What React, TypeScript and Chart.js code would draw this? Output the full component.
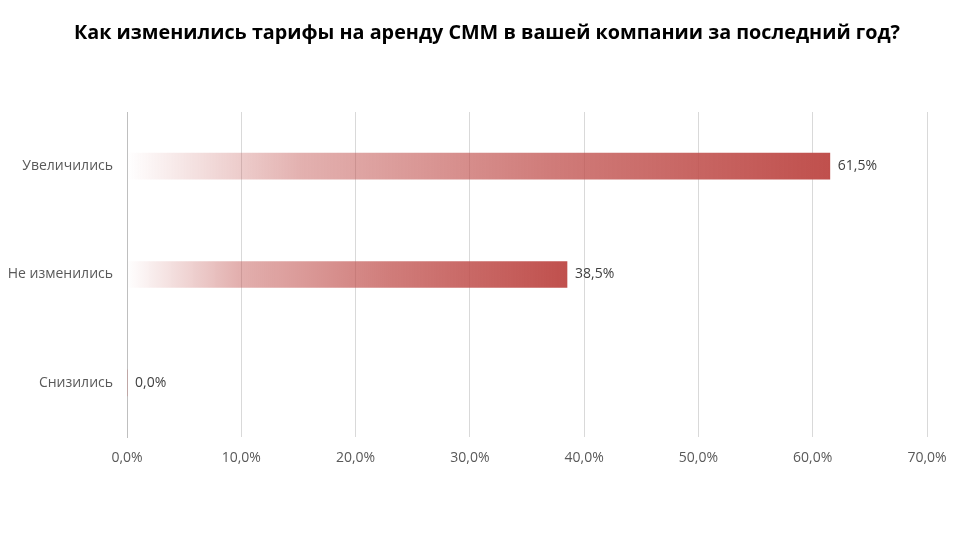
import React, { useEffect, useRef } from "react";
import { Chart, registerables } from "chart.js";

Chart.register(...registerables);

const TITLE = "Как изменились тарифы на аренду СММ в вашей компании за последний год?";
const categories = ["Увеличились", "Не изменились", "Снизились"];
const values = [61.5, 38.5, 0.0];
const xTicksMax = 70;
const xTickStep = 10;

const BASE = "192,80,77";
const FONT = "'Open Sans', 'Noto Sans', sans-serif";

const fmt = (v: number) => v.toFixed(1).replace(".", ",") + "%";

const titlePlugin = {
  id: "customTitle",
  afterDraw(chart: any) {
    const ctx = chart.ctx;
    ctx.save();
    ctx.font = `bold 20px ${FONT}`;
    ctx.fillStyle = "#000000";
    ctx.textAlign = "center";
    ctx.textBaseline = "middle";
    ctx.fillText(TITLE, 487, 33, 826);
    ctx.restore();
  },
};

const labelPlugin = {
  id: "barLabels",
  afterDatasetsDraw(chart: any) {
    const ctx = chart.ctx;
    const meta = chart.getDatasetMeta(0);
    ctx.save();
    ctx.font = `14px ${FONT}`;
    ctx.fillStyle = "#404040";
    ctx.textAlign = "left";
    ctx.textBaseline = "middle";
    meta.data.forEach((bar: any, i: number) => {
      ctx.fillText(fmt(values[i]), bar.x + 8, bar.y);
    });
    ctx.restore();
  },
};

export default function App() {
  const ref = useRef<HTMLCanvasElement>(null);
  useEffect(() => {
    document.body.style.margin = "0";
    const canvas = ref.current!;
    const chart = new Chart(canvas, {
      type: "bar",
      data: {
        labels: categories,
        datasets: [
          {
            data: values,
            barThickness: 26,
            borderWidth: 0,
            backgroundColor: (c: any) => {
              const ch = c.chart;
              if (!ch.chartArea || !ch.scales.x) return `rgb(${BASE})`;
              const xs = ch.scales.x;
              const x0 = xs.getPixelForValue(0);
              const v = typeof c.raw === "number" ? c.raw : 0;
              const x1 = Math.max(xs.getPixelForValue(v), x0 + 1);
              const g = ch.ctx.createLinearGradient(x0, 0, x1, 0);
              g.addColorStop(0, `rgba(${BASE},0)`);
              g.addColorStop(0.25, `rgba(${BASE},0.45)`);
              g.addColorStop(0.6, `rgba(${BASE},0.75)`);
              g.addColorStop(1, `rgba(${BASE},1)`);
              return g;
            },
          },
        ],
      },
      options: {
        indexAxis: "y",
        animation: false,
        responsive: false,
        devicePixelRatio: 1,
        layout: { padding: { top: 112, left: 0, right: 33, bottom: 63 } },
        plugins: {
          legend: { display: false },
          title: { display: false },
          tooltip: { enabled: false },
        },
        scales: {
          x: {
            min: 0,
            max: xTicksMax,
            ticks: {
              stepSize: xTickStep,
              color: "#595959",
              font: { family: FONT, size: 14 },
              padding: 13,
              callback: (v: any) => fmt(Number(v)),
            },
            grid: { color: "#d9d9d9", drawTicks: false, lineWidth: 1 },
            border: { display: false },
            afterFit: (s: any) => {
              s.height = 40;
            },
          },
          y: {
            ticks: {
              color: "#595959",
              font: { family: FONT, size: 14 },
              padding: 14,
            },
            grid: { display: false, drawTicks: false },
            border: { display: true, color: "#bfbfbf", width: 1 },
            afterFit: (s: any) => {
              s.width = 127;
            },
          },
        },
      },
      plugins: [titlePlugin, labelPlugin],
    });
    return () => chart.destroy();
  }, []);
  return <canvas ref={ref} width={960} height={540} style={{ display: "block" }} />;
}
